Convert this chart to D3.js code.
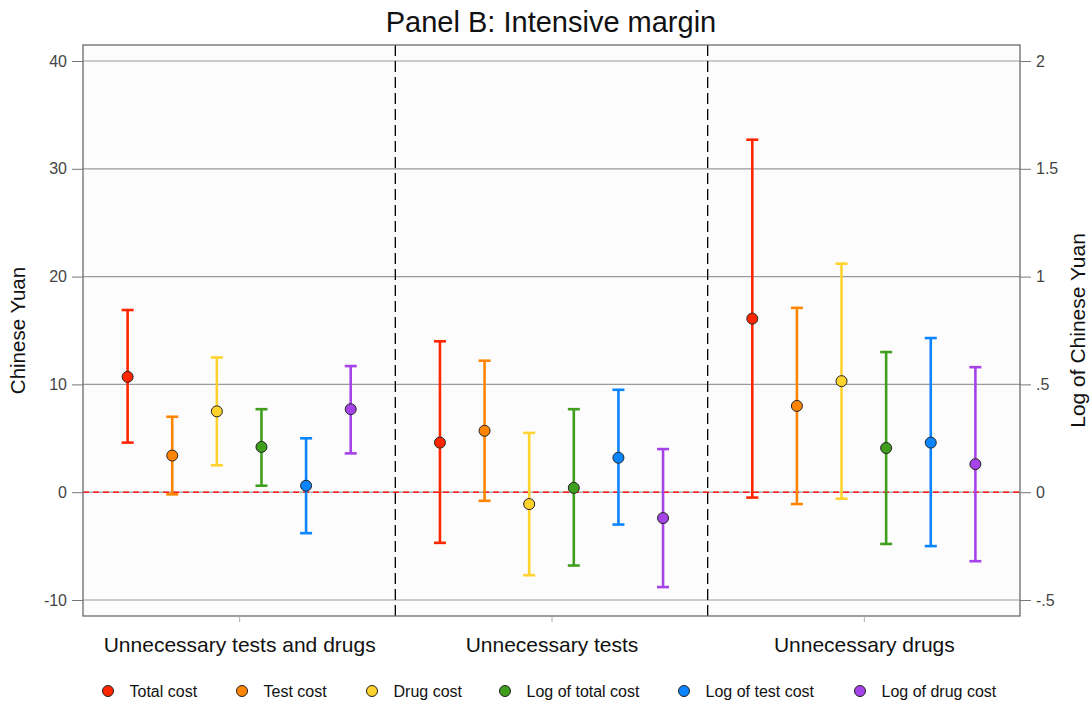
<!DOCTYPE html>
<html><head><meta charset="utf-8">
<script src="https://cdn.jsdelivr.net/npm/d3@7"></script>
<style>body{margin:0;background:#fff;} text{font-family:"Liberation Sans",Arial,sans-serif;}</style>
</head><body>
<svg id="c" width="1091" height="704"></svg>
<script>
const groups = ["Unnecessary tests and drugs", "Unnecessary tests", "Unnecessary drugs"];
const seriesNames = ["Total cost", "Test cost", "Drug cost", "Log of total cost", "Log of test cost", "Log of drug cost"];
const seriesColors = ["#ff2600", "#ff8500", "#ffd22e", "#3f9e1c", "#0a84ff", "#a543e8"];
// axis each series uses: "yuan" (left) or "log" (right)
const seriesAxis = ["yuan", "yuan", "yuan", "log", "log", "log"];
// estimates [group][series]
const estimate = [
  [10.7, 3.4, 7.5, 0.21, 0.03, 0.385],
  [4.6, 5.7, -1.1, 0.02, 0.16, -0.12],
  [16.1, 8.0, 10.3, 0.205, 0.23, 0.13]
];
const ciLow = [
  [4.6, -0.2, 2.5, 0.03, -0.19, 0.18],
  [-4.7, -0.8, -7.7, -0.34, -0.15, -0.44],
  [-0.5, -1.1, -0.6, -0.24, -0.25, -0.32]
];
const ciHigh = [
  [16.9, 7.0, 12.5, 0.385, 0.25, 0.585],
  [14.0, 12.2, 5.5, 0.385, 0.475, 0.2],
  [32.7, 17.1, 21.2, 0.65, 0.715, 0.58]
];
const leftTicks = [40, 30, 20, 10, 0, -10];
const leftTickLabels = ["40", "30", "20", "10", "0", "-10"];
const rightTicks = [2, 1.5, 1, 0.5, 0, -0.5];
const rightTickLabels = ["2", "1.5", "1", ".5", "0", "-.5"];

const svg = d3.select("#c");
const L = 83, R = 1020, T = 45, B = 616;
const x = d3.scaleLinear().domain([0, 3]).range([L, R]);
const yL = d3.scaleLinear().domain([-10, 40]).range([600, 61]);
const yR = d3.scaleLinear().domain([-0.5, 2]).range([600, 61]);
const yOf = (axis, v) => axis === "yuan" ? yL(v) : yR(v);
const FF = "Liberation Sans, Arial, sans-serif";

// plot background
svg.append("rect").attr("x", L).attr("y", T).attr("width", R - L).attr("height", B - T)
  .attr("fill", "#fcfcfc");

// gridlines
svg.append("g").selectAll("line").data(leftTicks).join("line")
  .attr("x1", L).attr("x2", R).attr("y1", d => yL(d)).attr("y2", d => yL(d))
  .attr("stroke", "#9a9a9a").attr("stroke-width", 1.2);

// zero line red dashed
svg.append("line").attr("x1", L).attr("x2", R).attr("y1", yL(0)).attr("y2", yL(0))
  .attr("stroke", "#ff1a1a").attr("stroke-width", 1.5).attr("stroke-dasharray", "6,4");

// dividers
[1, 2].forEach(g => {
  svg.append("line").attr("x1", x(g)).attr("x2", x(g)).attr("y1", T).attr("y2", B)
    .attr("stroke", "#000").attr("stroke-width", 1.3).attr("stroke-dasharray", "11,5");
});

// frame
svg.append("rect").attr("x", L).attr("y", T).attr("width", R - L).attr("height", B - T)
  .attr("fill", "none").attr("stroke", "#6b6b6b").attr("stroke-width", 1.3);

// left axis
const gl = svg.append("g").attr("transform", `translate(${L},0)`)
  .call(d3.axisLeft(yL).tickValues(leftTicks).tickSize(11).tickPadding(5)
    .tickFormat((d, i) => leftTickLabels[i]));
gl.select(".domain").remove();
gl.selectAll(".tick line").attr("stroke", "#777");
gl.selectAll(".tick text").attr("fill", "#444").style("font-size", "16px").style("font-family", FF);

// right axis
const gr = svg.append("g").attr("transform", `translate(${R},0)`)
  .call(d3.axisRight(yR).tickValues(rightTicks).tickSize(11).tickPadding(5)
    .tickFormat((d, i) => rightTickLabels[i]));
gr.select(".domain").remove();
gr.selectAll(".tick line").attr("stroke", "#777");
gr.selectAll(".tick text").attr("fill", "#444").style("font-size", "16px").style("font-family", FF);

// bottom axis
const gb = svg.append("g").attr("transform", `translate(0,${B})`)
  .call(d3.axisBottom(x).tickValues([0.5, 1.5, 2.5]).tickSize(6).tickPadding(15)
    .tickFormat((d, i) => groups[i]));
gb.select(".domain").remove();
gb.selectAll(".tick line").attr("stroke", "#aaa");
gb.selectAll(".tick text").attr("fill", "#111").style("font-size", "21px").style("font-family", FF);

// error bars and points
const pts = [];
groups.forEach((g, gi) => {
  seriesNames.forEach((s, si) => {
    pts.push({gi, si, xv: gi + (si + 1) / 7, e: estimate[gi][si], lo: ciLow[gi][si], hi: ciHigh[gi][si], axis: seriesAxis[si]});
  });
});
const cap = 6;
const eg = svg.append("g");
pts.forEach(p => {
  const cx = x(p.xv), col = seriesColors[p.si];
  const y1 = yOf(p.axis, p.lo), y2 = yOf(p.axis, p.hi);
  eg.append("line").attr("x1", cx).attr("x2", cx).attr("y1", y1).attr("y2", y2)
    .attr("stroke", col).attr("stroke-width", 2.6);
  [y1, y2].forEach(yy => eg.append("line").attr("x1", cx - cap).attr("x2", cx + cap)
    .attr("y1", yy).attr("y2", yy).attr("stroke", col).attr("stroke-width", 2.6));
});
svg.append("g").selectAll("circle").data(pts).join("circle")
  .attr("cx", d => x(d.xv)).attr("cy", d => yOf(d.axis, d.e)).attr("r", 5.5)
  .attr("fill", d => seriesColors[d.si]).attr("stroke", "#222").attr("stroke-width", 1);

// title
svg.append("text").attr("x", 551).attr("y", 32).attr("text-anchor", "middle")
  .style("font-size", "29px").attr("fill", "#111").text("Panel B: Intensive margin");

// axis titles
svg.append("text").attr("transform", `translate(25,${(T + B) / 2}) rotate(-90)`)
  .attr("text-anchor", "middle").style("font-size", "20.5px").attr("fill", "#111").text("Chinese Yuan");
svg.append("text").attr("transform", `translate(1085,${(T + B) / 2}) rotate(-90)`)
  .attr("text-anchor", "middle").style("font-size", "21px").attr("fill", "#111").text("Log of Chinese Yuan");

// legend
const legX = [108, 242, 372, 505, 684, 860];
const lg = svg.append("g");
seriesNames.forEach((s, i) => {
  lg.append("circle").attr("cx", legX[i]).attr("cy", 691).attr("r", 5.5)
    .attr("fill", seriesColors[i]).attr("stroke", "#222").attr("stroke-width", 1);
  lg.append("text").attr("x", legX[i] + 21.5).attr("y", 696.5).style("font-size", "16px")
    .attr("fill", "#111").text(s);
});
</script>
</body></html>
